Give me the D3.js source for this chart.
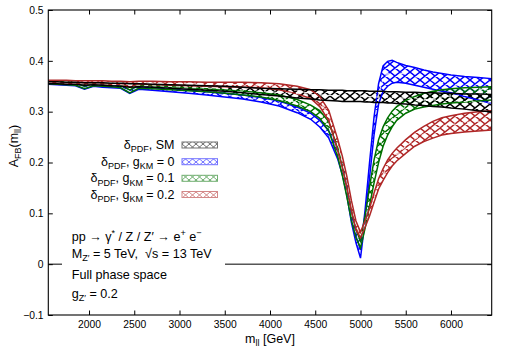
<!DOCTYPE html>
<html><head><meta charset="utf-8">
<script src="https://cdn.jsdelivr.net/npm/d3@7"></script>
<style>
html,body{margin:0;padding:0;background:#fff;}
svg{display:block;font-family:"Liberation Sans",Arial,Helvetica,sans-serif;}
text{white-space:pre;}
</style></head>
<body><svg id="c" width="510" height="357"></svg>
<script>
// ---------------- data ----------------
const masses = [1550,1650,1750,1850,1950,2050,2150,2250,2350,2450,2550,2700,2900,3100,3300,3500,3700,3900,4100,4300,4450,4550,4650,4750,4800,4850,4900,4950,5000,5050,5100,5150,5200,5250,5300,5350,5400,5500,5600,5700,5800,5900,6000,6150,6300,6450];

const smUpper = [.359,.359,.358,.358,.357,.357,.357,.356,.356,.355,.355,.354,.353,.352,.351,.350,.348,.346,.345,.344,.343,.343,.342,.342,.342,.341,.341,.341,.341,.341,.340,.340,.340,.340,.339,.339,.339,.338,.338,.337,.337,.336,.336,.335,.335,.334];
const smLower = [.355,.355,.354,.354,.352,.353,.352,.351,.350,.348,.349,.348,.346,.344,.342,.340,.337,.334,.331,.327,.325,.323,.322,.321,.320,.320,.320,.320,.320,.319,.319,.318,.318,.318,.317,.317,.316,.315,.313,.312,.310,.309,.307,.305,.302,.300];

const g0Upper = [.358,.357,.357,.356,.349,.355,.353,.352,.351,.342,.349,.347,.345,.342,.339,.336,.333,.328,.321,.309,.297,.283,.262,.222,.192,.152,.100,.058,.028,.105,.200,.290,.355,.390,.399,.401,.397,.391,.387,.382,.378,.375,.372,.369,.367,.365];
const g0Lower = [.354,.353,.352,.351,.344,.350,.348,.347,.346,.336,.344,.342,.339,.336,.333,.329,.325,.319,.311,.298,.285,.270,.248,.206,.176,.135,.082,.042,.012,.085,.170,.255,.315,.340,.350,.356,.358,.356,.352,.348,.344,.340,.337,.330,.323,.316];

const g01Upper = [.359,.359,.358,.357,.350,.356,.355,.354,.353,.343,.352,.351,.349,.347,.345,.343,.341,.337,.333,.324,.313,.302,.280,.228,.192,.150,.105,.068,.046,.095,.152,.205,.245,.270,.288,.301,.310,.322,.330,.336,.340,.343,.345,.347,.348,.349];
const g01Lower = [.355,.354,.353,.352,.345,.351,.350,.349,.347,.337,.346,.345,.343,.341,.339,.336,.333,.329,.322,.311,.300,.287,.262,.210,.174,.132,.086,.052,.032,.070,.115,.160,.200,.232,.254,.270,.283,.297,.305,.309,.312,.315,.317,.319,.321,.323];

const g02Upper = [.362,.362,.362,.361,.361,.361,.361,.360,.360,.359,.360,.360,.359,.359,.358,.358,.358,.357,.355,.350,.343,.330,.302,.245,.212,.172,.125,.085,.063,.085,.110,.140,.168,.188,.205,.218,.228,.245,.260,.271,.281,.288,.292,.297,.300,.302];
const g02Lower = [.357,.357,.356,.356,.355,.355,.355,.354,.354,.350,.354,.353,.352,.351,.350,.349,.348,.347,.343,.335,.326,.310,.282,.222,.190,.150,.105,.068,.052,.072,.095,.122,.148,.165,.180,.193,.203,.218,.232,.241,.248,.254,.257,.260,.262,.264];

const seriesNames = ["SM", "0", "0.1", "0.2"];
const seriesColors = ["#000000", "#0000ff", "#007000", "#b02828"];

const xTicks = [2000,2500,3000,3500,4000,4500,5000,5500,6000];
const yTicks = [-0.1,0,0.1,0.2,0.3,0.4,0.5];
const yTickLabels = ["\u22120.1","0","0.1","0.2","0.3","0.4","0.5"];
const infoLines = [
  [["pp \u2192 \u03b3","n"],["*","sup"],[" / Z / Z\u2032 \u2192 e","n"],["+","sup"],[" e","n"],["\u2212","sup"]],
  [["M","n"],["Z\u2032","sub"],[" = 5 TeV,  \u221as = 13 TeV","n"]],
  [["Full phase space","n"]],
  [["g","n"],["Z\u2032","sub"],[" = 0.2","n"]]
];

// ---------------- layout ----------------
const L = 48.3, R = 491.7, T = 10, B = 315;
const svg = d3.select("#c");
const x = d3.scaleLinear().domain([1550, 6450]).range([L, R]);
const y = d3.scaleLinear().domain([-0.1, 0.5]).range([B, T]);

const defs = svg.append("defs");
defs.append("clipPath").attr("id","clip").append("rect")
  .attr("x", L).attr("y", T).attr("width", R-L).attr("height", B-T);

function makePattern(id, color, w, h, sw) {
  const p = defs.append("pattern").attr("id", id).attr("patternUnits","userSpaceOnUse")
    .attr("width", w).attr("height", h);
  p.append("path").attr("d", `M0,0L${w},${h}M${w},0L0,${h}M${-w},0L${w},${2*h}M0,${-h}L${2*w},${h}M${2*w},0L0,${2*h}M${w},${-h}L${-w},${h}`)
    .attr("stroke", color).attr("stroke-width", sw).attr("fill","none");
}
seriesColors.forEach((c,i) => {
  makePattern("pat"+i, c, 10, 8, 1.4);
  makePattern("lpat"+i, c, 7, 6, 1.0);
});

const bands = [
  {upper: g0Upper, lower: g0Lower, ci: 1},
  {upper: g01Upper, lower: g01Lower, ci: 2},
  {upper: g02Upper, lower: g02Lower, ci: 3},
  {upper: smUpper, lower: smLower, ci: 0}
];

// zero line
svg.append("line").attr("x1", L).attr("x2", R).attr("y1", y(0)).attr("y2", y(0))
  .attr("stroke","#000").attr("stroke-width",1);

const gData = svg.append("g").attr("clip-path","url(#clip)");
const area = d3.area().x((d,i)=>x(masses[i])).y0(d=>y(d[0])).y1(d=>y(d[1]));
const line = d3.line().x((d,i)=>x(masses[i])).y(d=>y(d));

bands.forEach(b => {
  const pts = masses.map((m,i)=>[b.lower[i], b.upper[i]]);
  gData.append("path").attr("d", area(pts)).attr("fill", `url(#pat${b.ci})`).attr("stroke","none");
});
bands.forEach(b => {
  const col = seriesColors[b.ci];
  const mid = masses.map((m,i)=>(b.lower[i]+b.upper[i])/2);
  gData.append("path").attr("d", line(mid)).attr("fill","none")
    .attr("stroke","#fff").attr("stroke-width",1.1).attr("stroke-dasharray","4,4").attr("opacity",0.85);
  gData.append("path").attr("d", line(b.upper)).attr("fill","none").attr("stroke",col).attr("stroke-width",1.5);
  gData.append("path").attr("d", line(b.lower)).attr("fill","none").attr("stroke",col).attr("stroke-width",1.5);
});

// rich text helper
function rich(sel, parts, size) {
  let shift = 0;
  parts.forEach(([t, kind]) => {
    const target = kind === "sub" ? 3.2 : kind === "sup" ? -5 : 0;
    sel.append("tspan").attr("dy", target - shift)
      .attr("font-size", kind === "n" ? size : size * 0.72).text(t);
    shift = target;
  });
}

// info box
svg.append("rect").attr("x", 62).attr("y", 226).attr("width", 163).attr("height", 80).attr("fill","#fff");
const infoY = [240.5, 258, 279.3, 298];
infoLines.forEach((parts, i) => {
  const t = svg.append("text").attr("x", 71.7).attr("y", infoY[i]).attr("font-size", 12.6).attr("fill","#000");
  rich(t, parts, 12.6);
});

// legend
const legY = [145, 161.7, 178.3, 194.5];
seriesNames.forEach((nm, i) => {
  const t = svg.append("text").attr("x", 174.5).attr("y", legY[i] + 4).attr("text-anchor","end")
    .attr("font-size", 12.5).attr("fill","#000");
  const parts = i === 0 ? [["\u03b4","n"],["PDF","sub"],[", SM","n"]]
    : [["\u03b4","n"],["PDF","sub"],[", g","n"],["KM","sub"],[" = " + nm,"n"]];
  rich(t, parts, 12.5);
  svg.append("rect").attr("x", 182).attr("y", legY[i] - 3).attr("width", 35.5).attr("height", 6)
    .attr("fill", `url(#lpat${i})`).attr("stroke", seriesColors[i]).attr("stroke-width", 1)
    .attr("opacity", 0.55);
});

// axes
const tk = 4.5;
const axB = svg.append("g").attr("transform", `translate(0,${B})`)
  .call(d3.axisBottom(x).tickValues(xTicks).tickSizeInner(-tk).tickSizeOuter(0).tickPadding(6).tickFormat(d3.format("d")));
const axT = svg.append("g").attr("transform", `translate(0,${T})`)
  .call(d3.axisTop(x).tickValues(xTicks).tickSizeInner(-tk).tickSizeOuter(0).tickFormat(""));
const axL = svg.append("g").attr("transform", `translate(${L},0)`)
  .call(d3.axisLeft(y).tickValues(yTicks).tickSizeInner(-tk).tickSizeOuter(0).tickPadding(5)
    .tickFormat((d,i)=>yTickLabels[i]));
const axR = svg.append("g").attr("transform", `translate(${R},0)`)
  .call(d3.axisRight(y).tickValues(yTicks).tickSizeInner(-tk).tickSizeOuter(0).tickFormat(""));
[axB, axT, axL, axR].forEach(a => {
  a.select(".domain").remove();
  a.selectAll(".tick line").attr("stroke","#000").attr("stroke-width",1);
  a.selectAll("text").attr("font-size", 10.3).attr("fill","#000")
    .attr("font-family",'"Liberation Sans",Arial,Helvetica,sans-serif');
});
axL.selectAll("text").attr("x", -4.8);

// frame
svg.append("rect").attr("x", L).attr("y", T).attr("width", R-L).attr("height", B-T)
  .attr("fill","none").attr("stroke","#000").attr("stroke-width",1.1);

// axis titles
const xt = svg.append("text").attr("x", 270).attr("y", 343).attr("text-anchor","middle")
  .attr("font-size", 12.5).attr("fill","#000");
rich(xt, [["m","n"],["ll","sub"],[" [GeV]","n"]], 12.5);
const yt = svg.append("text").attr("transform","translate(17.5,146) rotate(-90)").attr("text-anchor","middle")
  .attr("font-size", 12.5).attr("fill","#000");
rich(yt, [["A","n"],["FB","sub"],["(m","n"],["ll","sub"],[")","n"]], 12.5);
</script></body></html>
